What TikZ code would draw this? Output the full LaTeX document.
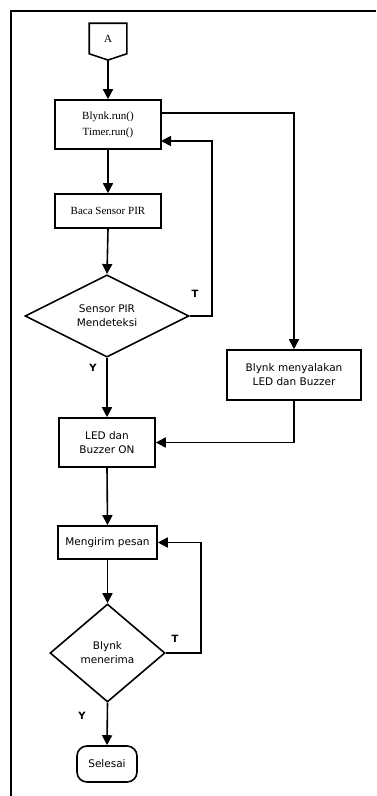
\documentclass[tikz,border=0pt]{standalone}
\usepackage{fontspec}
\setmainfont{Liberation Serif}
\newfontfamily\dvsans{DejaVu Sans}
\usetikzlibrary{shapes.geometric,arrows.meta,calc}
\begin{document}
\begin{tikzpicture}[x=1pt,y=-1pt,
  line width=1.6pt,
  arr/.style={-{Triangle[length=10pt,width=10pt]}},
  serifbox/.style={draw,rectangle,inner sep=0pt,align=center,font=\fontsize{11}{16}\selectfont},
  sansbox/.style={draw,rectangle,inner sep=0pt,align=center,font=\dvsans\fontsize{10.5}{14}\selectfont},
  decision/.style={draw,diamond,inner sep=0pt,align=center,font=\dvsans\fontsize{10.5}{14}\selectfont},
  endbox/.style={draw,rectangle,rounded corners=10pt,inner sep=0pt,align=center,font=\dvsans\fontsize{10.5}{14}\selectfont},
  lab/.style={font=\dvsans\bfseries\fontsize{10}{12}\selectfont,inner sep=0pt}]
\useasboundingbox (0,0) rectangle (376,796);
% frame
\draw (11,796) -- (11,11) -- (376,11);
% off-page connector
\node[inner sep=0pt,minimum width=36pt,minimum height=29pt,font=\fontsize{11}{13}\selectfont] (A) at (108,38.5) {A};
\coordinate (Abot) at (108,60);
\draw (A.north west) -- (A.north east) -- (A.south east) -- (Abot) -- (A.south west) -- cycle;
% nodes
\node[serifbox,minimum width=106pt,minimum height=49pt] (b1) at (108,124.5) {Blynk.run()\\Timer.run()};
\node[serifbox,minimum width=106pt,minimum height=34pt] (b2) at (108,211) {Baca Sensor PIR};
\node[decision,minimum width=164pt,minimum height=82pt] (d1) at (107,316) {Sensor PIR\\Mendeteksi};
\node[sansbox,minimum width=134pt,minimum height=50pt] (b3) at (294,375) {Blynk menyalakan\\LED dan Buzzer};
\node[sansbox,minimum width=96pt,minimum height=49pt] (b4) at (107,442.5) {LED dan\\Buzzer ON};
\node[sansbox,minimum width=99pt,minimum height=33pt] (b5) at (107.5,542.5) {Mengirim pesan};
\node[decision,minimum width=115pt,minimum height=98pt] (d2) at (107.5,653) {Blynk\\menerima};
\node[endbox,minimum width=60pt,minimum height=36pt] (sel) at (107,764) {Selesai};
\coordinate (b1in) at (161,141);
\coordinate (b1out) at (161,113);
% connectors
\draw[arr] (Abot) -- (b1.north);
\draw[arr] (b1.south) -- (b2.north);
\draw[arr] (b2.south) -- (d1.north);
\draw[arr] (d1.east) -- (212,316) |- (b1in);
\draw[arr] (b1out) -| (b3.north);
\draw[arr] (b3.south) |- (b4.east);
\draw[arr] (d1.south) -- (b4.north);
\draw[arr] (b4.south) -- (b5.north);
\draw[arr] (b5.south) -- (d2.north);
\draw[arr] (d2.east) -- (201,653) |- (b5.east);
\draw[arr] (d2.south) -- (sel.north);
% labels
\node[lab] (t1) at (195,294) {T};
\node[lab] (y1) at (93,368) {Y};
\node[lab] (t2) at (175,639) {T};
\node[lab] (y2) at (82,716) {Y};
\end{tikzpicture}
\end{document}
